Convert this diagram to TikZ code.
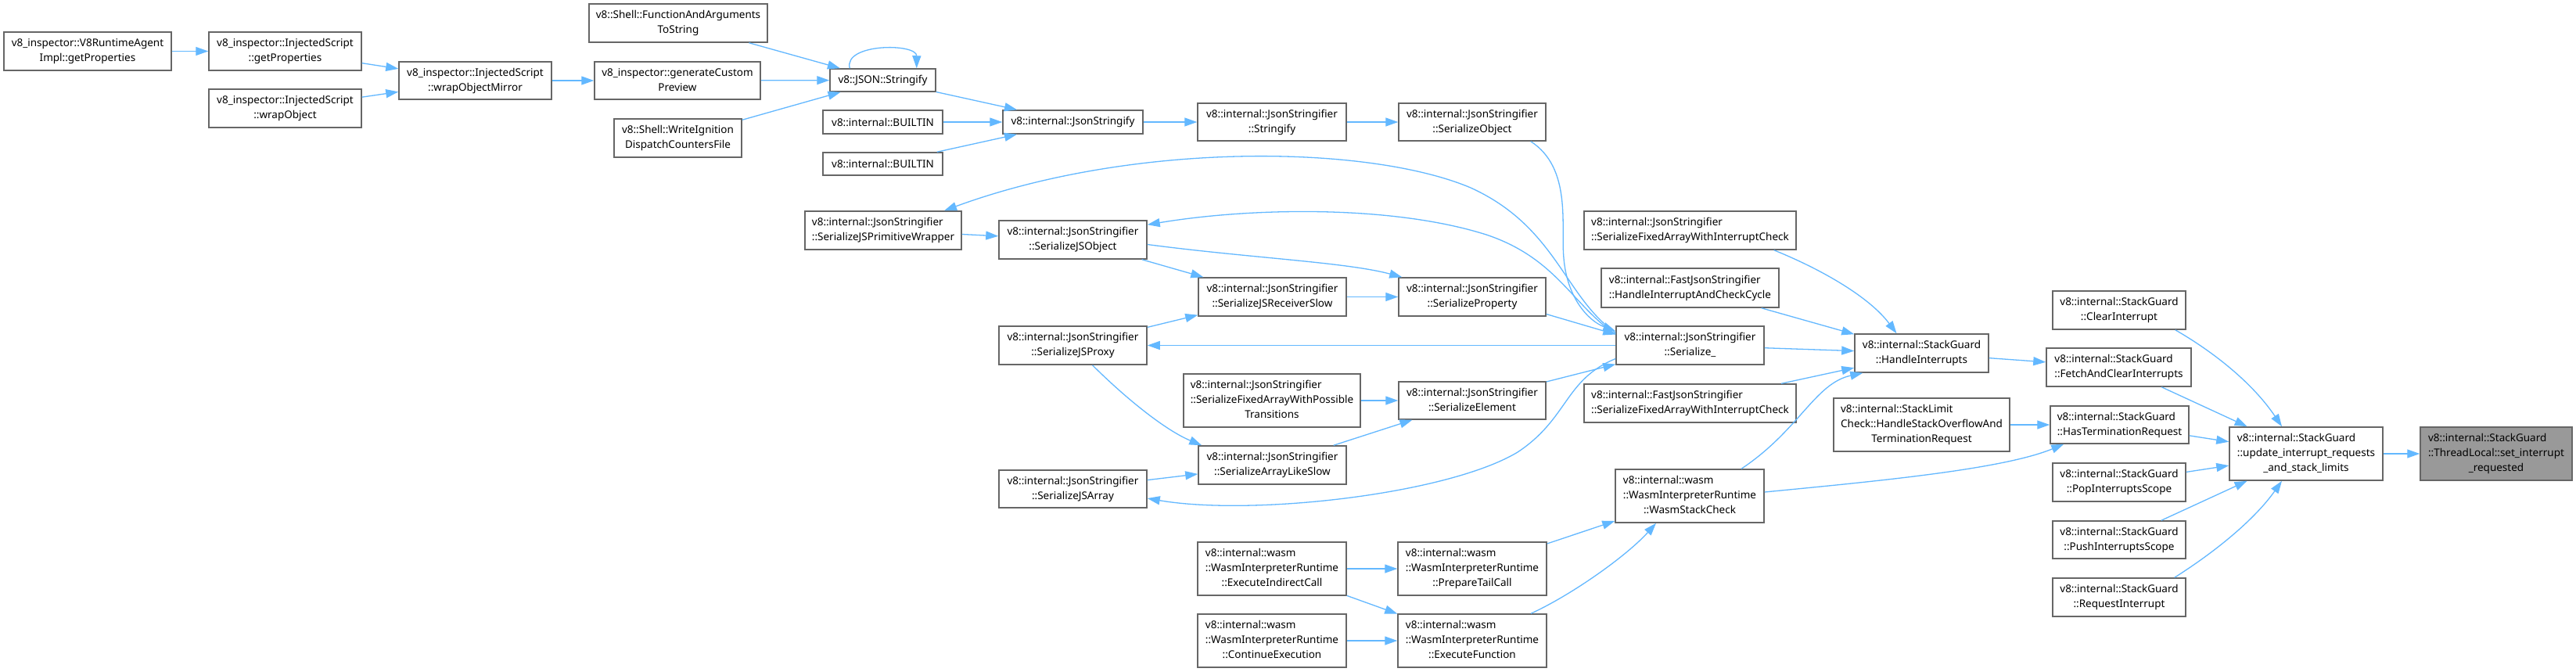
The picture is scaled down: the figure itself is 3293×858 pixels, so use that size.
\documentclass[tikz,border=0pt]{standalone}
\usepackage{fontspec}
\setmainfont{Noto Sans}
\usetikzlibrary{arrows.meta,calc}
\definecolor{edgeblue}{HTML}{63B8FF}
\definecolor{boxline}{HTML}{666666}
\definecolor{tgtfill}{HTML}{999999}
\newcommand\LL[2]{\begin{tabular}{@{}l@{}}#1\\\multicolumn{1}{@{}c@{}}{#2}\end{tabular}}
\newcommand\LLL[3]{\begin{tabular}{@{}l@{}}#1\\#2\\\multicolumn{1}{@{}c@{}}{#3}\end{tabular}}
\newcommand\bx[7][]{\node[box,#1,minimum width={(#5-#3)*0.5pt},minimum height={(#6-#4)*0.5pt}] (#2) at ({(#3+#5)/2},{(#4+#6)/2}) {#7};}
\begin{document}
\begin{tikzpicture}[x=0.5pt,y=-0.5pt,
 box/.style={draw=boxline,line width=0.75pt,fill=white,inner sep=0pt,font=\fontsize{6.75}{9.5}\selectfont},
 tgt/.style={fill=tgtfill},
 edge/.style={draw=edgeblue,line width=0.65pt,-{Triangle[length=8pt,width=5.5pt]}}]
\useasboundingbox (0,0) rectangle (3293,858);
\fill[white] (0,0) rectangle (3293,858);
\bx{rt}{5}{41}{219}{90}{\LL{v8\_inspector::V8RuntimeAgent}{Impl::getProperties}}
\bx{isgp}{267}{41}{462}{90}{\LL{v8\_inspector::InjectedScript}{::getProperties}}
\bx{iswo}{267}{114}{462}{163}{\LL{v8\_inspector::InjectedScript}{::wrapObject}}
\bx{iswom}{510}{79}{705}{127}{\LL{v8\_inspector::InjectedScript}{::wrapObjectMirror}}
\bx{fats}{753}{5}{981}{54}{\LL{v8::Shell::FunctionAndArguments}{ToString}}
\bx{gcp}{760}{79}{972}{127}{\LL{v8\_inspector::generateCustom}{Preview}}
\bx{wid}{785}{152}{948}{201}{\LL{v8::Shell::WriteIgnition}{DispatchCountersFile}}
\bx{jsons}{1061}{88}{1196}{117}{v8::JSON::Stringify}
\bx{bia}{1052}{141}{1205}{171}{v8::internal::BUILTIN}
\bx{bib}{1052}{195}{1205}{224}{v8::internal::BUILTIN}
\bx{ijs}{1282}{141}{1461}{171}{v8::internal::JsonStringify}
\bx{st}{1531}{132}{1721}{180}{\LL{v8::internal::JsonStringifier}{::Stringify}}
\bx{so}{1788}{132}{1976}{180}{\LL{v8::internal::JsonStringifier}{::SerializeObject}}
\bx{spw}{1029}{270}{1229}{319}{\LL{v8::internal::JsonStringifier}{::SerializeJSPrimitiveWrapper}}
\bx{sjo}{1277}{282}{1466}{331}{\LL{v8::internal::JsonStringifier}{::SerializeJSObject}}
\bx{srs}{1532}{355}{1721}{404}{\LL{v8::internal::JsonStringifier}{::SerializeJSReceiverSlow}}
\bx{sp}{1788}{355}{1976}{404}{\LL{v8::internal::JsonStringifier}{::SerializeProperty}}
\bx{spx}{1277}{417}{1466}{466}{\LL{v8::internal::JsonStringifier}{::SerializeJSProxy}}
\bx{sfp}{1513}{478}{1739}{546}{\LLL{v8::internal::JsonStringifier}{::SerializeFixedArrayWithPossible}{Transitions}}
\bx{se}{1788}{488}{1976}{536}{\LL{v8::internal::JsonStringifier}{::SerializeElement}}
\bx{sals}{1532}{570}{1721}{619}{\LL{v8::internal::JsonStringifier}{::SerializeArrayLikeSlow}}
\bx{sja}{1277}{601}{1466}{649}{\LL{v8::internal::JsonStringifier}{::SerializeJSArray}}
\bx{eic}{1531}{693}{1721}{761}{\LLL{v8::internal::wasm}{::WasmInterpreterRuntime}{::ExecuteIndirectCall}}
\bx{ptc}{1787}{693}{1977}{761}{\LLL{v8::internal::wasm}{::WasmInterpreterRuntime}{::PrepareTailCall}}
\bx{ce}{1531}{785}{1721}{853}{\LLL{v8::internal::wasm}{::WasmInterpreterRuntime}{::ContinueExecution}}
\bx{ef}{1787}{785}{1977}{853}{\LLL{v8::internal::wasm}{::WasmInterpreterRuntime}{::ExecuteFunction}}
\bx{sfi}{2025}{270}{2296}{319}{\LL{v8::internal::JsonStringifier}{::SerializeFixedArrayWithInterruptCheck}}
\bx{hic}{2047}{343}{2274}{393}{\LL{v8::internal::FastJsonStringifier}{::HandleInterruptAndCheckCycle}}
\bx{ser}{2066}{417}{2255}{466}{\LL{v8::internal::JsonStringifier}{::Serialize\_}}
\bx{fsi}{2025}{491}{2296}{540}{\LL{v8::internal::FastJsonStringifier}{::SerializeFixedArrayWithInterruptCheck}}
\bx{wsc}{2065}{600}{2255}{668}{\LLL{v8::internal::wasm}{::WasmInterpreterRuntime}{::WasmStackCheck}}
\bx{hi}{2371}{427}{2542}{476}{\LL{v8::internal::StackGuard}{::HandleInterrupts}}
\bx{slc}{2344}{509}{2569}{577}{\LLL{v8::internal::StackLimit}{Check::HandleStackOverflowAnd}{TerminationRequest}}
\bx{ci}{2624}{372}{2794}{421}{\LL{v8::internal::StackGuard}{::ClearInterrupt}}
\bx{faci}{2616}{445}{2801}{494}{\LL{v8::internal::StackGuard}{::FetchAndClearInterrupts}}
\bx{htr}{2621}{519}{2798}{567}{\LL{v8::internal::StackGuard}{::HasTerminationRequest}}
\bx{pis}{2624}{592}{2794}{641}{\LL{v8::internal::StackGuard}{::PopInterruptsScope}}
\bx{pus}{2624}{666}{2794}{714}{\LL{v8::internal::StackGuard}{::PushInterruptsScope}}
\bx{ri}{2624}{739}{2794}{788}{\LL{v8::internal::StackGuard}{::RequestInterrupt}}
\bx{uir}{2850}{546}{3046}{614}{\LLL{v8::internal::StackGuard}{::update\_interrupt\_requests}{\_and\_stack\_limits}}
\bx[tgt]{tg}{3094}{546}{3288}{614}{\LLL{v8::internal::StackGuard}{::ThreadLocal::set\_interrupt}{\_requested}}
% edges
\draw[edge] (rt) -- (isgp);
\draw[edge] (isgp) -- (iswom);
\draw[edge] (iswo) -- (iswom);
\draw[edge] (iswom) -- (gcp);
\draw[edge] (fats) -- (jsons);
\draw[edge] (gcp) -- (jsons);
\draw[edge] (wid) -- (jsons);
\draw[edge] ($(jsons.north west)+(26,0)$) .. controls (1078,55) and (1172,55) .. ($(jsons.north east)+(-25,0)$);
\draw[edge] (jsons) -- (ijs);
\draw[edge] (bia) -- (ijs);
\draw[edge] (bib) -- (ijs);
\draw[edge] (ijs) -- (st);
\draw[edge] (st) -- (so);
\draw[edge] ($(so.south east)+(-20,0)$) .. controls (2010,215) and (1995,290) .. (1999,330) .. controls (2003,380) and (2030,410) .. ($(ser.north west)+(0,7)$);
\draw[edge] ($(ser.north west)+(0,9)$) .. controls (2000,380) and (1990,290) .. (1880,240) .. controls (1750,185) and (1450,180) .. ($(spw.north)+(78,0)$);
\draw[edge] (spw) -- (sjo);
\draw[edge] ($(ser.north west)+(0,11)$) .. controls (2010,390) and (1990,330) .. (1900,300) .. controls (1780,262) and (1600,265) .. ($(sjo.north east)+(0,6)$);
\draw[edge] (sjo) -- (srs);
\draw[edge] ($(sjo.east)+(0,6)$) .. controls (1600,330) and (1720,335) .. ($(sp.north west)+(5,0)$);
\draw[edge] (srs) -- (sp);
\draw[edge] (spx) -- (srs);
\draw[edge] ($(sp.east)+(0,22)$) -- ($(ser.west)+(0,-14)$);
\draw[edge] (ser) -- (spx);
\draw[edge] (sfp) -- (se);
\draw[edge] (se) -- (ser);
\draw[edge] ($(spx.south)+(25,0)$) .. controls (1440,510) and (1490,550) .. ($(sals.north west)+(5,0)$);
\draw[edge] (sals) -- (se);
\draw[edge] (sja) -- (sals);
\draw[edge] ($(ser.west)+(0,17)$) .. controls (2000,485) and (2005,535) .. (1940,578) .. controls (1850,632) and (1600,660) .. ($(sja.east)+(0,12)$);
\draw[edge] (ser) -- (hi);
\draw[edge] ($(sfi.south east)+(-29,0)$) .. controls (2330,345) and (2390,380) .. ($(hi.north)+(-32,0)$);
\draw[edge] (hic) -- (hi);
\draw[edge] (fsi) -- (hi);
\draw[edge] ($(wsc.north)+(66,0)$) .. controls (2300,550) and (2320,490) .. ($(hi.south west)+(11,0)$);
\draw[edge] ($(wsc.east)+(0,-5)$) .. controls (2400,615) and (2560,600) .. ($(htr.south west)+(18,0)$);
\draw[edge] (hi) -- (faci);
\draw[edge] (slc) -- (htr);
\draw[edge] ($(ci.south east)+(-14,0)$) .. controls (2830,450) and (2880,490) .. ($(uir.north)+(-31,0)$);
\draw[edge] (faci) -- (uir);
\draw[edge] (htr) -- (uir);
\draw[edge] (pis) -- (uir);
\draw[edge] (pus) -- (uir);
\draw[edge] ($(ri.north east)+(-15,0)$) .. controls (2840,700) and (2885,660) .. ($(uir.south)+(-31,0)$);
\draw[edge] (uir) -- (tg);
\draw[edge] ($(ef.north)+(75,0)$) .. controls (2010,760) and (2080,710) .. ($(wsc.south)+(-43,0)$);
\draw[edge] (ptc) -- (wsc);
\draw[edge] (eic) -- (ptc);
\draw[edge] (eic) -- (ef);
\draw[edge] (ce) -- (ef);
\end{tikzpicture}
\end{document}
